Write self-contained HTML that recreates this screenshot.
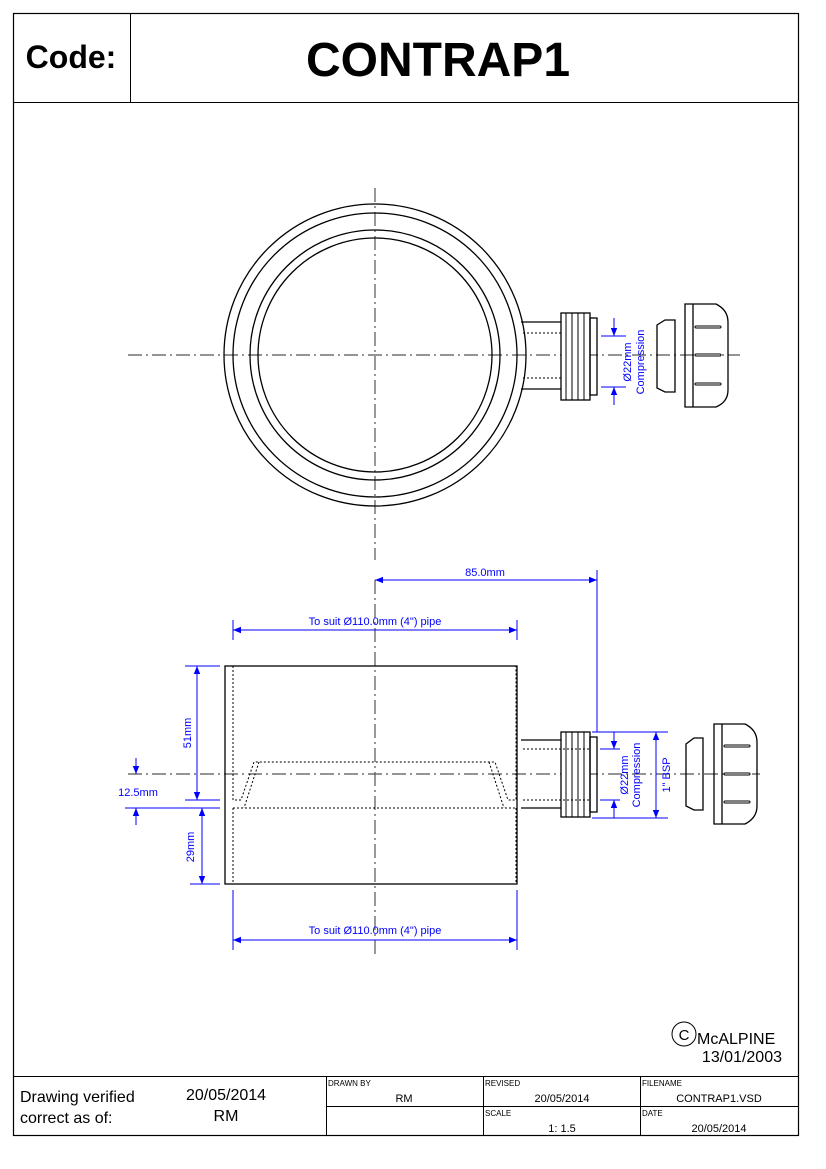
<!DOCTYPE html>
<html><head><style>
body{margin:0;background:#fff;}
svg{display:block;font-family:"Liberation Sans",sans-serif;}
</style></head><body>
<svg width="826" height="1169" viewBox="0 0 826 1169" xmlns="http://www.w3.org/2000/svg">
<defs>
<marker id="a" viewBox="0 0 10 10" refX="10" refY="5" markerWidth="8" markerHeight="8" orient="auto-start-reverse" markerUnits="userSpaceOnUse"><path d="M0,1 L10,5 L0,9z" fill="#00f"/></marker>
</defs>
<rect x="13.5" y="13.5" width="785" height="1122" fill="none" stroke="#000" stroke-width="1.2"/>
<line x1="13" y1="102.5" x2="798" y2="102.5" stroke="#000"/>
<line x1="130.5" y1="13" x2="130.5" y2="102" stroke="#000"/>
<text x="71" y="68" font-size="32" font-weight="bold" text-anchor="middle">Code:</text>
<text x="438" y="76" font-size="48" font-weight="bold" text-anchor="middle">CONTRAP1</text>

<!-- centre lines -->
<g stroke="#555" stroke-width="1.2" stroke-dasharray="14,4,2,4" fill="none">
<line x1="375" y1="188" x2="375" y2="560"/>
<line x1="128" y1="355" x2="740" y2="355"/>
<line x1="375" y1="580" x2="375" y2="955"/>
<line x1="128" y1="774" x2="760" y2="774"/>
</g>

<!-- top view -->
<g stroke="#000" stroke-width="1.3" fill="none">
<circle cx="375" cy="355" r="151"/>
<circle cx="375" cy="355" r="142"/>
<circle cx="375" cy="355" r="125"/>
<circle cx="375" cy="355" r="117"/>
<path d="M521,322 H562 M521,389 H562"/>
<path d="M523,333 H590 M523,378 H590" stroke-dasharray="2,2" stroke-width="1"/>
<rect x="561" y="313" width="29" height="87" fill="#fff"/>
<path d="M566,313 V400 M572,313 V400 M578,313 V400 M584,313 V400" stroke-width="1"/>
<rect x="590" y="318" width="7" height="77"/>
<path d="M657,325 L665,320 H675 V392 H665 L657,388 Z"/>
<path d="M685,304 H716 Q728,310 728,322 V390 Q728,402 716,407 H685 Z M693,304 V407"/>
<path d="M696,327 H720 M696,355 H720 M696,384 H720" stroke-width="3" stroke-linecap="round"/>
<path d="M696,327 H720 M696,355 H720 M696,384 H720" stroke="#fff" stroke-width="1" stroke-linecap="round"/>
</g>
<g stroke="#00f" stroke-width="1" fill="none">
<line x1="601" y1="336" x2="626" y2="336"/>
<line x1="601" y1="387" x2="626" y2="387"/>
<line x1="614" y1="318" x2="614" y2="336" marker-end="url(#a)"/>
<line x1="614" y1="405" x2="614" y2="387" marker-end="url(#a)"/>
</g>
<g fill="#00f" font-size="11">
<text transform="translate(631,362) rotate(-90)" text-anchor="middle">Ø22mm</text>
<text transform="translate(644,362) rotate(-90)" text-anchor="middle">Compression</text>
</g>

<!-- side view -->
<g stroke="#000" stroke-width="1.3" fill="none">
<rect x="225" y="666" width="292" height="218"/>
<path d="M521,740 H562 M521,808 H562"/>
<rect x="561" y="732" width="29" height="85" fill="#fff"/>
<path d="M566,732 V817 M572,732 V817 M578,732 V817 M584,732 V817" stroke-width="1"/>
<rect x="590" y="737" width="7" height="75"/>
<path d="M686,744 L694,738 H703 V810 H694 L686,806 Z"/>
<path d="M714,724 H745 Q757,730 757,742 V806 Q757,818 745,824 H714 Z M722,724 V824"/>
<path d="M725,746 H749 M725,774 H749 M725,802 H749" stroke-width="3" stroke-linecap="round"/>
<path d="M725,746 H749 M725,774 H749 M725,802 H749" stroke="#fff" stroke-width="1" stroke-linecap="round"/>
</g>
<g stroke="#000" stroke-width="1" fill="none" stroke-dasharray="2,2">
<path d="M233,666 V800 H241 L254,762 H495 L508,800 H516 V666"/>
<path d="M259,762 L244,808 M489,762 L504,808"/>
<path d="M233,808 H516 M233,808 V884 M516,808 V884"/>
<path d="M523,749 H590 M523,800 H590"/>
</g>
<!-- dims side -->
<g stroke="#00f" stroke-width="1" fill="none">
<line x1="233" y1="620" x2="233" y2="640"/>
<line x1="517" y1="620" x2="517" y2="640"/>
<line x1="233" y1="630" x2="517" y2="630" marker-start="url(#a)" marker-end="url(#a)"/>
<line x1="233" y1="890" x2="233" y2="950"/>
<line x1="517" y1="890" x2="517" y2="950"/>
<line x1="233" y1="940" x2="517" y2="940" marker-start="url(#a)" marker-end="url(#a)"/>
<line x1="375" y1="580" x2="597" y2="580" marker-start="url(#a)" marker-end="url(#a)"/>
<line x1="597" y1="570" x2="597" y2="732"/>
<line x1="185" y1="666" x2="220" y2="666"/>
<line x1="185" y1="800" x2="220" y2="800"/>
<line x1="125" y1="808" x2="220" y2="808"/>
<line x1="190" y1="884" x2="220" y2="884"/>
<line x1="197" y1="666" x2="197" y2="800" marker-start="url(#a)" marker-end="url(#a)"/>
<line x1="202" y1="808" x2="202" y2="884" marker-start="url(#a)" marker-end="url(#a)"/>
<line x1="136" y1="758" x2="136" y2="774" marker-end="url(#a)"/>
<line x1="136" y1="825" x2="136" y2="808" marker-end="url(#a)"/>
<line x1="592" y1="732" x2="668" y2="732"/>
<line x1="592" y1="818" x2="668" y2="818"/>
<line x1="600" y1="749" x2="620" y2="749"/>
<line x1="600" y1="800" x2="620" y2="800"/>
<line x1="614" y1="732" x2="614" y2="749" marker-end="url(#a)"/>
<line x1="614" y1="818" x2="614" y2="800" marker-end="url(#a)"/>
<line x1="656" y1="732" x2="656" y2="818" marker-start="url(#a)" marker-end="url(#a)"/>
</g>
<g fill="#00f" font-size="11">
<text x="375" y="625" text-anchor="middle">To suit Ø110.0mm (4") pipe</text>
<text x="375" y="934" text-anchor="middle">To suit Ø110.0mm (4") pipe</text>
<text x="485" y="576" text-anchor="middle">85.0mm</text>
<text x="138" y="796" text-anchor="middle">12.5mm</text>
<text transform="translate(191,733) rotate(-90)" text-anchor="middle">51mm</text>
<text transform="translate(194,847) rotate(-90)" text-anchor="middle">29mm</text>
<text transform="translate(628,775) rotate(-90)" text-anchor="middle">Ø22mm</text>
<text transform="translate(640,775) rotate(-90)" text-anchor="middle">Compression</text>
<text transform="translate(670,775) rotate(-90)" text-anchor="middle">1" BSP</text>
</g>

<!-- copyright -->
<circle cx="684" cy="1034" r="12" fill="none" stroke="#000"/>
<text x="684" y="1040" font-size="15" text-anchor="middle">C</text>
<text x="697" y="1044" font-size="16">McALPINE</text>
<text x="782" y="1062" font-size="16" text-anchor="end">13/01/2003</text>

<!-- bottom table -->
<g stroke="#000" stroke-width="1" fill="none">
<line x1="13" y1="1076.5" x2="798" y2="1076.5"/>
<line x1="326.5" y1="1076" x2="326.5" y2="1136"/>
<line x1="483.5" y1="1076" x2="483.5" y2="1136"/>
<line x1="640.5" y1="1076" x2="640.5" y2="1136"/>
<line x1="326" y1="1106.5" x2="798" y2="1106.5"/>
</g>
<g font-size="16">
<text x="20" y="1102">Drawing verified</text>
<text x="20" y="1123">correct as of:</text>
<text x="226" y="1100" text-anchor="middle">20/05/2014</text>
<text x="226" y="1121" text-anchor="middle">RM</text>
</g>
<g font-size="8">
<text x="328" y="1086">DRAWN BY</text>
<text x="485" y="1086">REVISED</text>
<text x="642" y="1086">FILENAME</text>
<text x="485" y="1116">SCALE</text>
<text x="642" y="1116">DATE</text>
</g>
<g font-size="11" text-anchor="middle">
<text x="404" y="1102">RM</text>
<text x="562" y="1102">20/05/2014</text>
<text x="719" y="1102">CONTRAP1.VSD</text>
<text x="562" y="1132">1: 1.5</text>
<text x="719" y="1132">20/05/2014</text>
</g>
</svg>
</body></html>
